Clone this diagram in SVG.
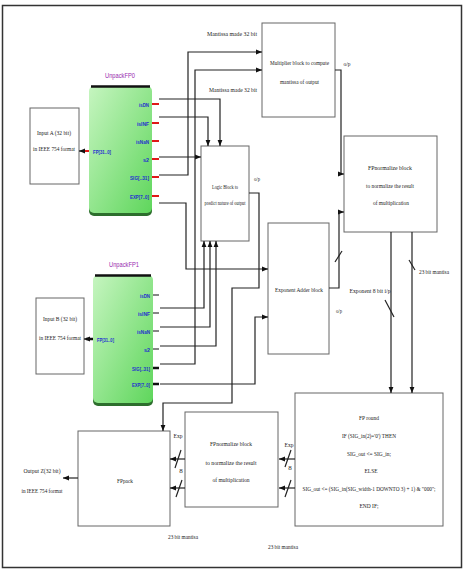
<svg xmlns="http://www.w3.org/2000/svg" width="465" height="571" viewBox="0 0 465 571">
<defs>
<linearGradient id="g" x1="0" y1="0" x2="1" y2="1">
<stop offset="0" stop-color="#c6f5c0"/>
<stop offset="1" stop-color="#5fd65c"/>
</linearGradient>
<marker id="ah" viewBox="0 0 10 10" refX="10" refY="5" markerWidth="6" markerHeight="6" orient="auto" markerUnits="userSpaceOnUse"><path d="M0,1 L10,5 L0,9 z" fill="#111"/></marker>
</defs>
<style>
.box{fill:#fff;stroke:#666;stroke-width:1}
.t{font-family:"Liberation Serif",serif;font-size:7px;fill:#222;text-anchor:middle}
.m{font-family:"Liberation Serif",serif;font-size:6.5px;fill:#222;text-anchor:middle}
.r{font-family:"Liberation Serif",serif;font-size:5.5px;fill:#222;text-anchor:middle}
.s{font-family:"Liberation Serif",serif;font-size:5.5px;fill:#222;text-anchor:middle}
.pin{font-family:"Liberation Sans",sans-serif;font-size:6px;font-weight:bold;fill:#1f2fd0;text-anchor:end}
.pinl{font-family:"Liberation Sans",sans-serif;font-size:6px;font-weight:bold;fill:#1f2fd0}
.ttl{font-family:"Liberation Sans",sans-serif;font-size:7.5px;fill:#9a2ab0;text-anchor:middle}
.c{fill:none;stroke:#222;stroke-width:1.2}
.a{marker-end:url(#ah)}
.sl{stroke:#222;stroke-width:1.2}
.red{stroke:#e01818;stroke-width:2}
.blk{stroke:#111;stroke-width:1.2}
</style>
<rect x="2.5" y="5.5" width="459" height="562" fill="#fff" stroke="#333" stroke-width="1.5"/>

<g id="inputA">
<rect class="box" x="30" y="108" width="49" height="76"/>
<text class="m" x="54" y="135" textLength="34" lengthAdjust="spacingAndGlyphs">Input A (32 bit)</text>
<text class="m" x="54" y="151" textLength="42" lengthAdjust="spacingAndGlyphs">in IEEE 754 format</text>
</g>

<g id="inputB">
<rect class="box" x="36" y="298" width="48" height="76"/>
<text class="m" x="60" y="321" textLength="34" lengthAdjust="spacingAndGlyphs">Input B (32 bit)</text>
<text class="m" x="60" y="340" textLength="42" lengthAdjust="spacingAndGlyphs">in IEEE 754 format</text>
</g>

<g id="unpackFP0">
<text class="ttl" x="120" y="78" textLength="30" lengthAdjust="spacingAndGlyphs">UnpackFP0</text>
<rect x="89" y="89" width="63" height="127" rx="5" fill="#2d6e2d"/>
<rect x="89" y="86" width="63" height="127" rx="5" fill="url(#g)"/>
<path d="M91 86.5 H150" stroke="#111" stroke-width="2.5"/>
<path class="red" d="M82 151 H89"/>
<text class="pinl" x="93" y="154" textLength="18" lengthAdjust="spacingAndGlyphs">FP[31..0]</text>
<path class="red" d="M152 104 H159 M152 123 H159 M152 141 H159 M152 159 H159 M152 177 H159 M152 196 H159"/>
<text class="pin" x="149" y="106.5" textLength="10" lengthAdjust="spacingAndGlyphs">isDN</text>
<text class="pin" x="149" y="125.5" textLength="12" lengthAdjust="spacingAndGlyphs">isINF</text>
<text class="pin" x="149" y="143.5" textLength="13" lengthAdjust="spacingAndGlyphs">isNaN</text>
<text class="pin" x="149" y="161.5" textLength="6" lengthAdjust="spacingAndGlyphs">s2</text>
<text class="pin" x="149" y="179.5" textLength="19" lengthAdjust="spacingAndGlyphs">SIG[..31]</text>
<text class="pin" x="149" y="198.5" textLength="19" lengthAdjust="spacingAndGlyphs">EXP[7..0]</text>
</g>

<g id="unpackFP1">
<text class="ttl" x="124" y="267" textLength="30" lengthAdjust="spacingAndGlyphs">UnpackFP1</text>
<rect x="93" y="278" width="60" height="128" rx="5" fill="#2d6e2d"/>
<rect x="93" y="275" width="60" height="128" rx="5" fill="url(#g)"/>
<path d="M95 275.5 H151" stroke="#111" stroke-width="2.5"/>
<path d="M86 339 H93" stroke="#111" stroke-width="2.5"/>
<text class="pinl" x="97" y="342" textLength="17" lengthAdjust="spacingAndGlyphs">FP[31..0]</text>
<path class="blk" d="M153 295 H159 M153 313 H159 M153 331 H159 M153 349 H159"/>
<path d="M153 368 H159 M153 384 H159" stroke="#111" stroke-width="2.5"/>
<text class="pin" x="150" y="297.5" textLength="10" lengthAdjust="spacingAndGlyphs">isDN</text>
<text class="pin" x="150" y="315.5" textLength="12" lengthAdjust="spacingAndGlyphs">isINF</text>
<text class="pin" x="150" y="333.5" textLength="13" lengthAdjust="spacingAndGlyphs">isNaN</text>
<text class="pin" x="150" y="351.5" textLength="6" lengthAdjust="spacingAndGlyphs">s2</text>
<text class="pin" x="150" y="370.5" textLength="18" lengthAdjust="spacingAndGlyphs">SIG[..31]</text>
<text class="pin" x="150" y="386.5" textLength="18" lengthAdjust="spacingAndGlyphs">EXP[7..0]</text>
</g>

<g id="multiplier">
<rect class="box" x="262" y="23" width="73" height="94"/>
<text class="m" x="299.5" y="65" textLength="59" lengthAdjust="spacingAndGlyphs">Multiplier block to compute</text>
<text class="m" x="299.5" y="84" textLength="39" lengthAdjust="spacingAndGlyphs">mantissa of output</text>
</g>

<g id="logic">
<rect class="box" x="201" y="146" width="48" height="95"/>
<text class="s" x="225" y="189" textLength="26" lengthAdjust="spacingAndGlyphs">Logic Block to</text>
<text class="s" x="225" y="205" textLength="41" lengthAdjust="spacingAndGlyphs">predict nature of output</text>
</g>

<g id="fpnorm1">
<rect class="box" x="344" y="136" width="93" height="96"/>
<text class="m" x="390" y="170" textLength="44" lengthAdjust="spacingAndGlyphs">FPnormalize block</text>
<text class="m" x="390" y="188" textLength="48" lengthAdjust="spacingAndGlyphs">to normalize the result</text>
<text class="m" x="391" y="205" textLength="36" lengthAdjust="spacingAndGlyphs">of multiplication</text>
</g>

<g id="expadder">
<rect class="box" x="268" y="223" width="61" height="131"/>
<text class="m" x="299" y="292" textLength="48" lengthAdjust="spacingAndGlyphs">Exponent Adder block</text>
</g>

<g id="fpround">
<rect class="box" x="295" y="393" width="148" height="133"/>
<text class="m" x="369" y="420" textLength="20" lengthAdjust="spacingAndGlyphs">FP round</text>
<text class="m" x="369" y="438" textLength="54" lengthAdjust="spacingAndGlyphs">IF (SIG_in(2)='0') THEN</text>
<text class="m" x="369" y="456" textLength="44" lengthAdjust="spacingAndGlyphs">SIG_out &lt;= SIG_in;</text>
<text class="m" x="371" y="473" textLength="13" lengthAdjust="spacingAndGlyphs">ELSE</text>
<text class="r" x="369" y="491" textLength="133" lengthAdjust="spacingAndGlyphs">SIG_out &lt;= (SIG_in(SIG_width-1 DOWNTO 3) + 1) &amp; "000";</text>
<text class="m" x="369" y="508" textLength="19" lengthAdjust="spacingAndGlyphs">END IF;</text>
</g>

<g id="fpnorm2">
<rect class="box" x="185" y="412" width="93" height="95"/>
<text class="m" x="231" y="446" textLength="42" lengthAdjust="spacingAndGlyphs">FPnormalize block</text>
<text class="m" x="231" y="465" textLength="51" lengthAdjust="spacingAndGlyphs">to normalize the result</text>
<text class="m" x="231" y="482" textLength="37" lengthAdjust="spacingAndGlyphs">of multiplication</text>
</g>

<g id="fppack">
<rect class="box" x="78" y="431" width="92" height="95"/>
<text class="t" x="125" y="483" textLength="16" lengthAdjust="spacingAndGlyphs">FPpack</text>
</g>

<g id="output">
<text class="m" x="42" y="473" textLength="37" lengthAdjust="spacingAndGlyphs">Output Z(32 bit)</text>
<text class="m" x="42" y="493" textLength="41" lengthAdjust="spacingAndGlyphs">in IEEE 754 format</text>
</g>

<g id="connectors">
<path class="c a" d="M84 151 H79"/>
<path class="c a" d="M87 339 H84"/>
<path class="c a" d="M159 99 H220 V146"/>
<path class="c a" d="M159 117 H208 V146"/>
<path class="c a" d="M159 157 H201"/>
<path class="c a" d="M159 175 H188 V52 H262"/>
<path class="c a" d="M160 364 H195 V70 H262"/>
<path class="c a" d="M159 203 H186 V269 H268"/>
<path class="c a" d="M160 384 H255 V317 H268"/>
<path class="c a" d="M160 308 H204 V241"/>
<path class="c a" d="M160 327 H210 V241"/>
<path class="c a" d="M160 346 H216 V241"/>
<path class="c a" d="M249 193 H259 V288 H232 V403 H163 V431"/>
<path class="c a" d="M335 70 H341 V174 H344"/>
<path class="c a" d="M329 288 H339 V212 H344"/>
<path class="sl" d="M335 262 L342 251"/>
<path class="c a" d="M391 232 V393"/>
<path class="c a" d="M412 232 V393"/>
<path class="sl" d="M385 300 L394 317"/>
<path class="sl" d="M409 260 L415 270"/>
<path class="c a" d="M295 459 H279"/>
<path class="c a" d="M295 488 H279"/>
<path class="sl" d="M285 467 L291 450 M285 497 L291 480"/>
<path class="c a" d="M185 459 H170"/>
<path class="c a" d="M185 488 H170"/>
<path class="sl" d="M175 468 L181 450 M176 497 L182 480"/>
<path class="c a" d="M78 478 H63"/>
</g>

<g id="labels">
<text class="t" x="232" y="36" textLength="50" lengthAdjust="spacingAndGlyphs">Mantissa made 32 bit</text>
<text class="t" x="233" y="92" textLength="48" lengthAdjust="spacingAndGlyphs">Mantissa made 32 bit</text>
<text class="s" x="347" y="66" textLength="7" lengthAdjust="spacingAndGlyphs">o/p</text>
<text class="s" x="257" y="181" textLength="6" lengthAdjust="spacingAndGlyphs">o/p</text>
<text class="s" x="339" y="313" textLength="6" lengthAdjust="spacingAndGlyphs">o/p</text>
<text class="t" x="370" y="293" textLength="41" lengthAdjust="spacingAndGlyphs">Exponent 8 bit i/p</text>
<text class="t" x="434" y="274" textLength="30" lengthAdjust="spacingAndGlyphs">23 bit mantisa</text>
<text class="t" x="289" y="447" textLength="9" lengthAdjust="spacingAndGlyphs">Exp</text>
<text class="t" x="290" y="470">8</text>
<text class="t" x="178" y="438" textLength="9" lengthAdjust="spacingAndGlyphs">Exp</text>
<text class="t" x="181" y="473">8</text>
<text class="t" x="183" y="539" textLength="30" lengthAdjust="spacingAndGlyphs">23 bit mantisa</text>
<text class="t" x="283" y="549" textLength="30" lengthAdjust="spacingAndGlyphs">23 bit mantisa</text>
</g>
</svg>
